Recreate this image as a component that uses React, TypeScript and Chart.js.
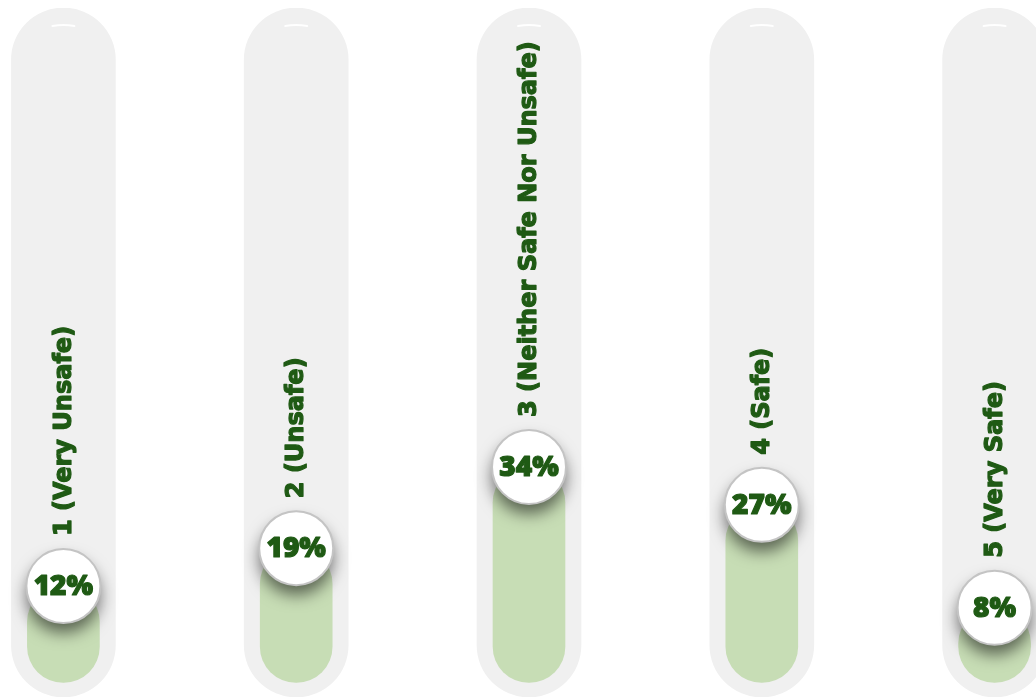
import React, { useEffect, useRef } from "react";
import { Chart, registerables } from "chart.js";

Chart.register(...registerables);

// ---- data ----
const categories = [
  "1 (Very Unsafe)",
  "2 (Unsafe)",
  "3 (Neither Safe Nor Unsafe)",
  "4 (Safe)",
  "5 (Very Safe)",
];
const values = [12, 19, 34, 27, 8];
const valueLabels = ["12%", "19%", "34%", "27%", "8%"];

// value-axis range (track spans the full axis, bars start at barBase)
const axisMin = -8.5;
const axisMax = 118.8;
const barBase = -5.8;

const TRACK_COLOR = "#f0f0f0";
const BAR_COLOR = "#c7ddb5";
const TEXT_COLOR = "#1f5a14";

const overlayPlugin = {
  id: "pillOverlay",
  afterDatasetsDraw(chart: any) {
    const ctx: CanvasRenderingContext2D = chart.ctx;
    const yScale = chart.scales.y;
    const meta = chart.getDatasetMeta(1);
    const trackTop = yScale.getPixelForValue(axisMax);

    // glossy highlight at top of each track
    meta.data.forEach((el: any) => {
      const x = el.x;
      ctx.save();
      ctx.strokeStyle = "rgba(255,255,255,0.95)";
      ctx.lineWidth = 2;
      ctx.lineCap = "round";
      ctx.beginPath();
      ctx.moveTo(x - 11, trackTop + 18);
      ctx.quadraticCurveTo(x, trackTop + 16, x + 11, trackTop + 18);
      ctx.stroke();
      ctx.restore();
    });

    // category labels (rotated)
    meta.data.forEach((el: any, i: number) => {
      const x = el.x;
      const yTop = yScale.getPixelForValue(values[i]);
      ctx.save();
      ctx.translate(x + 1, yTop - 50);
      ctx.rotate(-Math.PI / 2);
      ctx.font = 'bold 24px "DejaVu Sans", sans-serif';
      ctx.fillStyle = TEXT_COLOR;
      ctx.strokeStyle = TEXT_COLOR;
      ctx.lineWidth = 1.2;
      ctx.lineJoin = "round";
      ctx.textAlign = "left";
      ctx.textBaseline = "middle";
      ctx.fillText(categories[i], 0, 0);
      ctx.strokeText(categories[i], 0, 0);
      ctx.restore();
    });

    // value bubbles
    meta.data.forEach((el: any, i: number) => {
      const x = el.x;
      const yTop = yScale.getPixelForValue(values[i]);
      const r = 37;
      ctx.save();
      ctx.shadowColor = "rgba(0,0,0,0.55)";
      ctx.shadowBlur = 16;
      ctx.shadowOffsetY = 10;
      ctx.beginPath();
      ctx.arc(x, yTop, r, 0, Math.PI * 2);
      ctx.fillStyle = "#ffffff";
      ctx.fill();
      ctx.restore();

      ctx.save();
      ctx.beginPath();
      ctx.arc(x, yTop, r, 0, Math.PI * 2);
      ctx.strokeStyle = "#c4c4c4";
      ctx.lineWidth = 2;
      ctx.stroke();
      ctx.font = '800 28px "Open Sans", "DejaVu Sans", sans-serif';
      ctx.fillStyle = TEXT_COLOR;
      ctx.strokeStyle = TEXT_COLOR;
      ctx.lineWidth = 1.2;
      ctx.lineJoin = "round";
      ctx.textAlign = "center";
      ctx.textBaseline = "middle";
      ctx.fillText(valueLabels[i], x, yTop + 1);
      ctx.strokeText(valueLabels[i], x, yTop + 1);
      ctx.restore();
    });
  },
};

export default function App() {
  const canvasRef = useRef<HTMLCanvasElement | null>(null);

  useEffect(() => {
    if (!canvasRef.current) return;
    const chart = new Chart(canvasRef.current, {
      type: "bar",
      data: {
        labels: categories,
        datasets: [
          {
            label: "track",
            data: categories.map(() => [axisMin, axisMax]) as any,
            backgroundColor: TRACK_COLOR,
            barThickness: 104,
            borderRadius: 52,
            borderSkipped: false,
            grouped: false,
            order: 2,
          },
          {
            label: "share",
            data: values.map((v) => [barBase, v]) as any,
            backgroundColor: BAR_COLOR,
            barThickness: 72,
            borderRadius: 36,
            borderSkipped: false,
            grouped: false,
            order: 1,
          },
        ],
      },
      options: {
        responsive: false,
        animation: false,
        devicePixelRatio: 1,
        layout: { padding: { top: 8, bottom: 0, left: 0, right: 0 } },
        plugins: {
          legend: { display: false },
          tooltip: { enabled: false },
        },
        scales: {
          x: { type: "category", display: false, offset: true },
          y: { display: false, min: axisMin, max: axisMax },
        },
      },
      plugins: [overlayPlugin],
    });
    return () => chart.destroy();
  }, []);

  return (
    <div
      style={{
        position: "absolute",
        left: 0,
        top: 0,
        width: 1036,
        height: 697,
        overflow: "hidden",
        background: "#ffffff",
      }}
    >
      <canvas
        ref={canvasRef}
        width={1164}
        height={697}
        style={{ position: "absolute", left: -53, top: 0, width: 1164, height: 697 }}
      />
    </div>
  );
}
